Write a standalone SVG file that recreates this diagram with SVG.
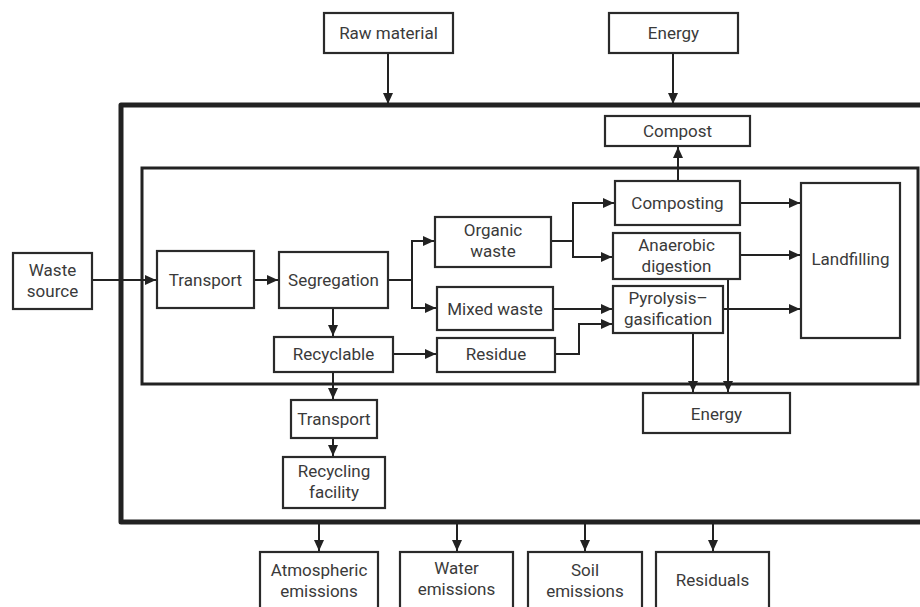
<svg xmlns="http://www.w3.org/2000/svg" width="920" height="607" viewBox="0 0 920 607">
  <defs>
    <marker id="arrow" markerUnits="userSpaceOnUse" markerWidth="12" markerHeight="12" viewBox="0 0 12 12" refX="11" refY="6" orient="auto">
      <path d="M0,1 L11,6 L0,11 Z" fill="#222"/>
    </marker>
  </defs>
  <style>
    .box { fill: #fff; stroke: #2a2a2a; stroke-width: 2.2; }
    .lbl { font-family: Roboto, "Liberation Sans", sans-serif; font-size: 17px; fill: #3a3a3a; text-anchor: middle; }
    .conn { fill: none; stroke: #222; stroke-width: 2; }
    .arr { marker-end: url(#arrow); }
  </style>
  <rect width="920" height="607" fill="#fff"/>

  <!-- system boundaries -->
  <g id="boundaries">
    <rect x="121" y="105" width="810" height="417" fill="none" stroke="#222" stroke-width="5" stroke-linejoin="round"/>
    <rect x="142" y="168" width="776" height="216" fill="none" stroke="#222" stroke-width="3"/>
  </g>

  <!-- connectors -->
  <g id="connectors">
    <path class="conn arr" d="M388,53 V104"/>
    <path class="conn arr" d="M673,53 V104"/>
    <path class="conn arr" d="M678,181 V147"/>
    <path class="conn arr" d="M92,280 H156"/>
    <path class="conn arr" d="M254,280 H278"/>
    <path class="conn" d="M388,280 H412"/>
    <path class="conn arr" d="M412,280 V241 H434"/>
    <path class="conn arr" d="M412,280 V308 H436"/>
    <path class="conn arr" d="M333,308 V336"/>
    <path class="conn arr" d="M393,354 H436"/>
    <path class="conn" d="M551,241 H573"/>
    <path class="conn arr" d="M573,241 V203 H614"/>
    <path class="conn arr" d="M573,241 V257 H612"/>
    <path class="conn arr" d="M553,309 H612"/>
    <path class="conn arr" d="M555,354 H579 V324 H612"/>
    <path class="conn arr" d="M740,203 H800"/>
    <path class="conn arr" d="M740,255 H800"/>
    <path class="conn arr" d="M723,309 H800"/>
    <path class="conn arr" d="M693,333 V392"/>
    <path class="conn arr" d="M728,279 V392"/>
    <path class="conn arr" d="M333,372 V399"/>
    <path class="conn arr" d="M333,438 V456"/>
    <path class="conn arr" d="M319,524 V551"/>
    <path class="conn arr" d="M457,524 V551"/>
    <path class="conn arr" d="M585,524 V551"/>
    <path class="conn arr" d="M713,524 V551"/>
  </g>

  <!-- inputs -->
  <g id="raw-material">
    <rect class="box" x="324" y="13" width="129" height="40"/>
    <text class="lbl" x="388.5" y="39">Raw material</text>
  </g>
  <g id="energy-in">
    <rect class="box" x="609" y="13" width="129" height="40"/>
    <text class="lbl" x="673.5" y="39">Energy</text>
  </g>
  <g id="waste-source">
    <rect class="box" x="13" y="253" width="79" height="56"/>
    <text class="lbl" x="52.5" y="276">Waste</text>
    <text class="lbl" x="52.5" y="297">source</text>
  </g>

  <!-- processing chain -->
  <g id="compost">
    <rect class="box" x="605" y="116" width="145" height="30"/>
    <text class="lbl" x="677.5" y="137">Compost</text>
  </g>
  <g id="transport">
    <rect class="box" x="157" y="251" width="97" height="57"/>
    <text class="lbl" x="205.5" y="286">Transport</text>
  </g>
  <g id="segregation">
    <rect class="box" x="279" y="252" width="109" height="56"/>
    <text class="lbl" x="333.5" y="286">Segregation</text>
  </g>
  <g id="organic-waste">
    <rect class="box" x="435" y="217" width="116" height="50"/>
    <text class="lbl" x="493" y="236">Organic</text>
    <text class="lbl" x="493" y="257">waste</text>
  </g>
  <g id="mixed-waste">
    <rect class="box" x="437" y="287" width="116" height="43"/>
    <text class="lbl" x="495" y="315">Mixed waste</text>
  </g>
  <g id="residue">
    <rect class="box" x="437" y="338" width="118" height="34"/>
    <text class="lbl" x="496" y="360">Residue</text>
  </g>
  <g id="recyclable">
    <rect class="box" x="274" y="337" width="119" height="35"/>
    <text class="lbl" x="333.5" y="360">Recyclable</text>
  </g>
  <g id="composting">
    <rect class="box" x="615" y="181" width="125" height="44"/>
    <text class="lbl" x="677.5" y="209">Composting</text>
  </g>
  <g id="anaerobic-digestion">
    <rect class="box" x="613" y="233" width="127" height="46"/>
    <text class="lbl" x="676.5" y="251">Anaerobic</text>
    <text class="lbl" x="676.5" y="272">digestion</text>
  </g>
  <g id="pyrolysis-gasification">
    <rect class="box" x="613" y="286" width="110" height="47"/>
    <text class="lbl" x="668" y="304">Pyrolysis–</text>
    <text class="lbl" x="668" y="325">gasification</text>
  </g>
  <g id="landfilling">
    <rect class="box" x="801" y="183" width="99" height="155"/>
    <text class="lbl" x="850.5" y="265">Landfilling</text>
  </g>
  <g id="energy-out">
    <rect class="box" x="643" y="393" width="147" height="40"/>
    <text class="lbl" x="716.5" y="420">Energy</text>
  </g>
  <g id="transport-recycling">
    <rect class="box" x="291" y="400" width="86" height="38"/>
    <text class="lbl" x="334" y="425">Transport</text>
  </g>
  <g id="recycling-facility">
    <rect class="box" x="283" y="457" width="102" height="51"/>
    <text class="lbl" x="334" y="477">Recycling</text>
    <text class="lbl" x="334" y="498">facility</text>
  </g>

  <!-- outputs -->
  <g id="atmospheric-emissions">
    <rect class="box" x="260" y="552" width="118" height="70"/>
    <text class="lbl" x="319" y="576">Atmospheric</text>
    <text class="lbl" x="319" y="597">emissions</text>
  </g>
  <g id="water-emissions">
    <rect class="box" x="400" y="552" width="113" height="70"/>
    <text class="lbl" x="456.5" y="574">Water</text>
    <text class="lbl" x="456.5" y="595">emissions</text>
  </g>
  <g id="soil-emissions">
    <rect class="box" x="528" y="552" width="114" height="70"/>
    <text class="lbl" x="585" y="576">Soil</text>
    <text class="lbl" x="585" y="597">emissions</text>
  </g>
  <g id="residuals">
    <rect class="box" x="656" y="552" width="113" height="70"/>
    <text class="lbl" x="712.5" y="586">Residuals</text>
  </g>
</svg>
